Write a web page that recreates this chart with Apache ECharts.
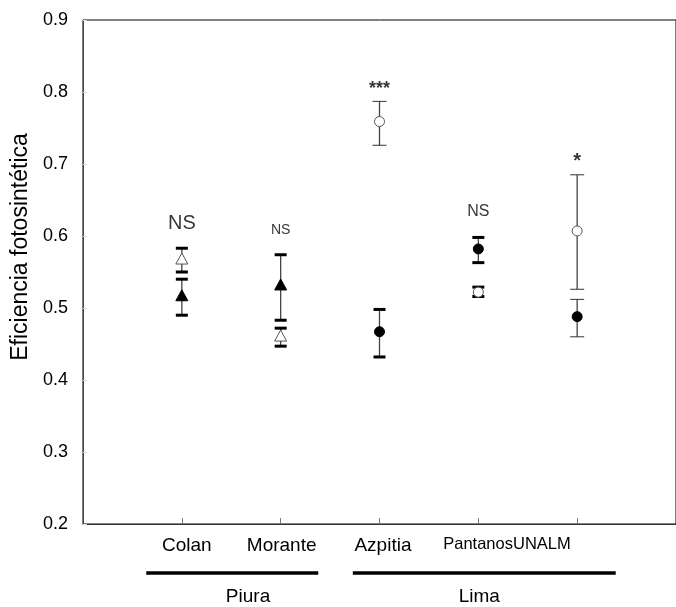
<!DOCTYPE html>
<html>
<head>
<meta charset="utf-8">
<script src="https://cdn.jsdelivr.net/npm/echarts@6/dist/echarts.min.js"></script>
<style>
  html, body { margin: 0; padding: 0; background: #fff; }
  #chart { width: 676px; height: 607px; }
</style>
</head>
<body>
<div id="chart"></div>
<script>
// sitios (posicion 1..5 en el eje x)
const sites = ['Colan', 'Morante', 'Azpitia', 'PantanosUNALM', ''];
const labelPos = [1.05, 2.01, 3.035, 4.29];

// simbolo abierto (media, limite inferior, superior)
const openMean = [0.568, 0.461, 0.759, 0.522, 0.607];
const openLow = [0.550, 0.447, 0.726, 0.516, 0.526];
const openHigh = [0.583, 0.472, 0.787, 0.529, 0.685];

// simbolo relleno
const filledMean = [0.517, 0.532, 0.467, 0.582, 0.488];
const filledLow = [0.490, 0.483, 0.432, 0.563, 0.460];
const filledHigh = [0.540, 0.574, 0.498, 0.598, 0.512];

const markerShape = ['triangle', 'triangle', 'circle', 'circle', 'circle'];

// significancia
const signif = ['NS', 'NS', '***', 'NS', '*'];
const signifY = [0.617, 0.608, 0.804, 0.634, 0.703];

// regiones
const groups = ['Piura', 'Lima'];
const groupStart = [0.64, 2.73];
const groupEnd = [2.38, 5.39];
const groupLabelX = [1.67, 4.01];

// estilo de las barras (gruesas o finas)
const openThick = [true, true, false, true, false];
const filledThick = [true, true, true, true, false];

const chart = echarts.init(document.getElementById('chart'));

function errorSeries(mean, low, high, filled, thickCaps) {
  return {
    type: 'custom',
    data: mean.map((m, i) => [i + 1, m, low[i], high[i], i]),
    z: filled ? 3 : 4,
    renderItem: function (params, api) {
      const x = api.value(0);
      const idx = api.value(4);
      const c = api.coord([x, api.value(1)]);
      const lo = api.coord([x, api.value(2)]);
      const hi = api.coord([x, api.value(3)]);
      const thick = thickCaps[idx];
      const hw = thick ? 6 : 7;
      const capStyle = thick
        ? { stroke: '#000', lineWidth: 3 }
        : { stroke: '#333', lineWidth: 1 };
      const children = [
        { type: 'line', shape: { x1: c[0], y1: hi[1], x2: c[0], y2: lo[1] },
          style: { stroke: '#444', lineWidth: 1.3 } },
        { type: 'line', shape: { x1: c[0] - hw, y1: hi[1], x2: c[0] + hw, y2: hi[1] }, style: capStyle },
        { type: 'line', shape: { x1: c[0] - hw, y1: lo[1], x2: c[0] + hw, y2: lo[1] }, style: capStyle }
      ];
      const mStyle = filled
        ? { fill: '#000', stroke: '#000', lineWidth: 1 }
        : { fill: '#fff', stroke: '#555', lineWidth: 1 };
      if (markerShape[idx] === 'triangle') {
        children.push({ type: 'polygon',
          shape: { points: [[c[0], c[1] - 6], [c[0] - 6, c[1] + 5], [c[0] + 6, c[1] + 5]] },
          style: mStyle });
      } else {
        children.push({ type: 'circle', shape: { cx: c[0], cy: c[1], r: 5 }, style: mStyle });
      }
      return { type: 'group', children: children };
    }
  };
}

const sigStyles = [
  { fontSize: 20 },
  { fontSize: 14 },
  { fontSize: 18, fontWeight: 'bold' },
  { fontSize: 16 },
  { fontSize: 20, fontWeight: 'bold' }
];

const option = {
  animation: false,
  grid: {
    left: 83, top: 20, width: 600, bottom: 83,
    show: true, borderColor: '#000', borderWidth: 1
  },
  xAxis: {
    type: 'value', min: 0, max: 6, interval: 1,
    splitLine: { show: false },
    axisLine: { lineStyle: { color: '#333' } },
    axisTick: { customValues: [1, 2, 3, 4, 5], inside: true, length: 6, lineStyle: { color: '#777' } },
    axisLabel: {
      customValues: labelPos,
      margin: 12,
      color: '#000', fontSize: 19, fontFamily: 'Liberation Sans',
      formatter: function (v) {
        const i = labelPos.indexOf(v);
        const name = i >= 0 ? sites[i] : '';
        return name === 'PantanosUNALM' ? '{n|' + name + '}' : name;
      },
      rich: { n: { fontSize: 16.5, fontFamily: 'Liberation Sans', color: '#000' } }
    }
  },
  yAxis: {
    type: 'value', min: 0.2, max: 0.9, interval: 0.1,
    splitLine: { show: false },
    axisLine: { show: true, lineStyle: { color: '#444' } },
    axisTick: { show: true, inside: true, length: 4, lineStyle: { color: '#ddd' } },
    axisLabel: {
      margin: 15, color: '#000', fontSize: 18, fontFamily: 'Liberation Sans',
      formatter: v => v.toFixed(1)
    },
    name: 'Eficiencia fotosintética',
    nameLocation: 'middle',
    nameGap: 50,
    nameTextStyle: { fontSize: 23, color: '#000', fontFamily: 'Liberation Sans', padding: [0, 0, 0, 50] }
  },
  series: [
    errorSeries(filledMean, filledLow, filledHigh, true, filledThick),
    errorSeries(openMean, openLow, openHigh, false, openThick),
    {
      type: 'scatter',
      symbolSize: 0,
      z: 5,
      data: signif.map((s, i) => ({
        value: [i + 1, signifY[i]],
        label: Object.assign({
          show: true, position: 'inside', formatter: s, color: '#000',
          fontFamily: 'Liberation Sans'
        }, sigStyles[i])
      }))
    }
  ]
};

chart.setOption(option);

// lineas y nombres de region bajo el eje
const axisY = chart.convertToPixel({ gridIndex: 0 }, [0, 0.2])[1];
const gfx = [];
groups.forEach((g, i) => {
  const x1 = chart.convertToPixel({ xAxisIndex: 0 }, groupStart[i]);
  const x2 = chart.convertToPixel({ xAxisIndex: 0 }, groupEnd[i]);
  const xl = chart.convertToPixel({ xAxisIndex: 0 }, groupLabelX[i]);
  gfx.push({ type: 'line', shape: { x1: x1, y1: axisY + 49, x2: x2, y2: axisY + 49 },
    style: { stroke: '#000', lineWidth: 3.5 } });
  gfx.push({ type: 'text', x: xl, y: axisY + 73,
    style: { text: g, fontSize: 19, fontFamily: 'Liberation Sans', fill: '#000',
      align: 'center', verticalAlign: 'middle' } });
});
chart.setOption({ graphic: gfx });
</script>
</body>
</html>
